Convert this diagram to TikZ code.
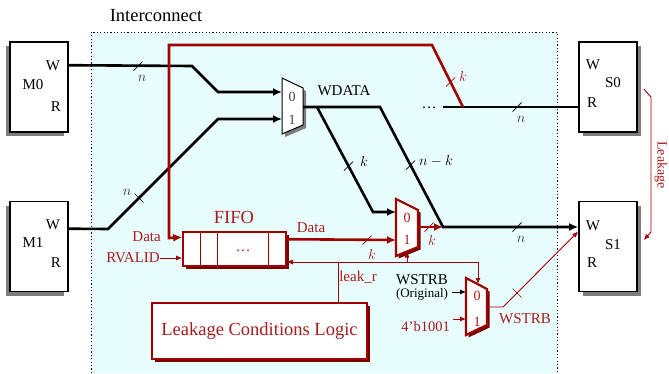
\documentclass[tikz,border=0pt]{standalone}
\usepackage{fontspec}
\setmainfont{Liberation Serif}
\usetikzlibrary{arrows.meta,calc,shadows}
\definecolor{dred}{RGB}{158,0,0}
\definecolor{tred}{RGB}{165,28,28}
\definecolor{bgcyan}{RGB}{232,253,253}
\definecolor{shgray}{RGB}{125,125,125}
\tikzset{
  txt/.style={inner sep=0pt, font=\fontsize{15}{18}\selectfont},
  bigtxt/.style={inner sep=0pt, font=\fontsize{18.5}{22}\selectfont},
  smalltxt/.style={inner sep=0pt, font=\fontsize{13}{15}\selectfont},
  redtxt/.style={txt, text=tred},
  lbl/.style={inner sep=0pt, font=\fontsize{15}{18}\selectfont, text=black!80},
  muxlbl/.style={inner sep=0pt, font=\fontsize{14}{16}\selectfont},
  wire/.style={line width=2.6pt, black},
  rwire/.style={line width=2.6pt, dred},
  twire/.style={line width=0.9pt, dred},
  bk/.style={-{Latex[length=9pt,width=8pt]}},
  rk/.style={-{Latex[length=9pt,width=8pt]}},
  tk/.style={-{Latex[length=6pt,width=5pt]}},
  masterbox/.style={draw, line width=1.6pt, fill=white, minimum width=58pt, minimum height=90pt, inner sep=0pt,
    general shadow={fill=shgray, shadow xshift=-4pt, shadow yshift=-4pt}},
  slavebox/.style={draw, line width=1.6pt, fill=white, minimum width=58pt, minimum height=90pt, inner sep=0pt,
    general shadow={fill=shgray, shadow xshift=4pt, shadow yshift=-4pt}},
  redbox/.style={draw=dred, line width=1.6pt, fill=white, inner sep=0pt,
    general shadow={fill=dred!75!black, shadow xshift=3pt, shadow yshift=-3pt}},
  muxblack/.style={draw, line width=1pt, fill=white,
    general shadow={fill=shgray, shadow xshift=3pt, shadow yshift=-3pt}},
  muxred/.style={draw=dred, line width=2.2pt, fill=white, line join=miter,
    general shadow={fill=dred!75!black, shadow xshift=2.5pt, shadow yshift=-2.5pt}},
  fslash/.pic={\draw[line width=0.7pt] (-4.5,4.5) -- (4.5,-4.5);},
  bslash/.pic={\draw[line width=0.7pt] (-4.5,-4.5) -- (4.5,4.5);},
}
\begin{document}
\begin{tikzpicture}[x=1pt,y=-1pt]
\useasboundingbox (0,0) rectangle (669,373);
% interconnect region
\fill[bgcyan] (91,32) rectangle (557,373);
\draw[line width=1pt, dash pattern=on 1.2pt off 2.2pt] (91,373) -- (91,32) -- (557,32) -- (557,373);
\node[bigtxt] (ictitle) at (156,16) {Interconnect};

% masters and slaves
\node[masterbox] (M0) at (39,87) {};
\node[masterbox] (M1) at (39,246.5) {};
\node[slavebox] (S0) at (608,87) {};
\node[slavebox] (S1) at (608,246.5) {};
\node[txt] (m0w) at (53,66) {W};
\node[txt] (m0n) at (33,85) {M0};
\node[txt] (m0r) at (56,107) {R};
\node[txt] (m1w) at (53,225) {W};
\node[txt] (m1n) at (33,243) {M1};
\node[txt] (m1r) at (56,263) {R};
\node[txt] (s0w) at (593,65) {W};
\node[txt] (s0n) at (613,83) {S0};
\node[txt] (s0r) at (592,103) {R};
\node[txt] (s1w) at (593,226) {W};
\node[txt] (s1n) at (613,245) {S1};
\node[txt] (s1r) at (592,263) {R};

% mux A (WDATA)
\draw[muxblack] (282,78) -- (303,88) -- (303,125) -- (282,134) -- cycle;
\coordinate (ma0) at (282,92);
\coordinate (ma1) at (282,119);
\coordinate (mao) at (303,107);
\node[muxlbl, text=black!75] (ma0l) at (292,97) {0};
\node[muxlbl, text=black!75] (ma1l) at (292,120) {1};
\node[txt] (wdata) at (344,91) {WDATA};

% FIFO
\node[redbox, minimum width=103pt, minimum height=34pt] (FIFO) at (234.5,249) {};
\draw[dred, line width=1.2pt] ($(FIFO.north west)+(18,0)$) -- ($(FIFO.south west)+(18,0)$);
\draw[dred, line width=1.2pt] ($(FIFO.north west)+(35,0)$) -- ($(FIFO.south west)+(35,0)$);
\draw[dred, line width=1.2pt] ($(FIFO.north east)+(-18,0)$) -- ($(FIFO.south east)+(-18,0)$);
\node[redtxt, anchor=base] (fdots) at (243,251) {\dots};
\node[bigtxt, text=tred] (fifol) at (234,217) {FIFO};

% mux B (red data mux)
\draw[muxred] (396,199) -- (418,210) -- (418,247) -- (396,256) -- cycle;
\coordinate (mb0) at (396,212);
\coordinate (mb1) at (396,240);
\coordinate (mbo) at (418,227);
\coordinate (mbs) at (407,251.5);
\node[muxlbl, text=tred] (mb0l) at (407,218) {0};
\node[muxlbl, text=tred] (mb1l) at (407,240) {1};

% mux C (WSTRB)
\draw[muxred] (466,278) -- (487,289) -- (487,325) -- (466,335) -- cycle;
\coordinate (mc0) at (466,292);
\coordinate (mc1) at (466,319);
\coordinate (mco) at (487,307);
\coordinate (mcs) at (478,284);
\node[muxlbl, text=tred] (mc0l) at (477,296) {0};
\node[muxlbl, text=tred] (mc1l) at (477,322) {1};

% Leakage conditions logic
\node[redbox, minimum width=215pt, minimum height=56pt, text=tred, font=\fontsize{18.5}{22}\selectfont] (LCL) at (259.5,331) {Leakage Conditions Logic};

% junctions
\coordinate (jn) at (443,227);
\coordinate (s0j) at (463,107);
\coordinate (lk) at (338,262);

% black data wires
\draw[wire,bk] ($(M0.north east)+(0,24)$) -- (192,66) -- (218,92) -- (ma0);
\draw[wire,bk] ($(M1.north east)+(0,28)$) -- (108,229) -- (218,119) -- (ma1);
\draw[wire,bk] (mao) -- (380,107) -- (jn) -- (S1.west |- jn);
\draw[wire,bk] (317,107) -- (373,212) -- (mb0);
\draw[wire] (443,107) -- (S0.west |- s0j);
\node[txt, anchor=base] (sdots) at (429,108) {\dots};

% red wires
\draw[rwire,rk,line join=miter] (s0j) -- (432,45) -- (169,45) -- (169,238) -- ($(FIFO.north west)+(0,6)$);
\draw[rwire,rk] ($(FIFO.north east)+(0,8)$) -- (mb1);
\draw[rwire,rk] (mbo) -- (jn);
\node[redtxt, anchor=east] (din) at (161,237) {Data};
\node[redtxt] (dout) at (311,228) {Data};
\node[redtxt, anchor=east] (rv) at (160,258) {RVALID};
\draw[twire,tk] (rv.east) -- (FIFO.west |- rv.east);

% leak_r wiring
\draw[twire] (lk |- LCL.north) -- (lk);
\draw[twire,tk] (lk) -- (FIFO.east |- lk);
\draw[twire,tk] (lk) -- (mcs |- lk) -- (mcs);
\draw[twire,tk] (mbs |- lk) -- (mbs);
\node[redtxt] (leakr) at (358,277) {leak\_r};

% WSTRB mux inputs / output
\node[txt] (wso) at (422,280) {WSTRB};
\node[smalltxt] (orig) at (422,294) {(Original)};
\draw[line width=0.9pt, tk] ($(orig.east |- mc0)+(4,0)$) -- (mc0);
\node[redtxt, font=\fontsize{14.5}{17}\selectfont, anchor=east] (cst) at (450,327) {4'b1001};
\draw[twire,tk] ($(cst.east |- mc1)+(3,0)$) -- (mc1);
\draw[twire,tk] (mco) -- (503,307) -- ($(S1.west)+(0,-15)$);
\node[redtxt] (wsr) at (525,319) {WSTRB};

% leakage arrow
\draw[twire,tk] ($(S0.east)+(6,2)$) -- (651,97) -- (651,232) -- ($(S1.east)+(6,-6.5)$);
\node[inner sep=0pt, text=tred, rotate=-90, font=\fontsize{14}{16}\selectfont] (leakl) at (661,165) {Leakage};

% bus width marks
\pic at (138,66) {fslash};
\node[lbl] (n1) at (142,78) {$n$};
\pic at (139,198) {bslash};
\node[lbl] (n2) at (127,192) {$n$};
\pic at (348.5,166) {fslash};
\node[lbl, text=black] (k1) at (364,161) {$k$};
\pic at (410.5,165) {fslash};
\node[lbl, text=black] (nk) at (436,161) {$n-k$};
\pic[color=dred] at (450.5,82) {fslash};
\node[lbl, text=tred] (k2) at (463,76) {$k$};
\pic at (517,107) {fslash};
\node[lbl] (n3) at (521,119) {$n$};
\pic at (517,227) {fslash};
\node[lbl] (n4) at (521,239) {$n$};
\pic[color=dred] at (367,240) {fslash};
\node[lbl, text=tred] (k3) at (372,254) {$k$};
\pic[color=dred] at (429,227) {fslash};
\node[lbl, text=tred] (k4) at (432,240) {$k$};
\pic[color=dred] at (517,293) {bslash};
\end{tikzpicture}
\end{document}
